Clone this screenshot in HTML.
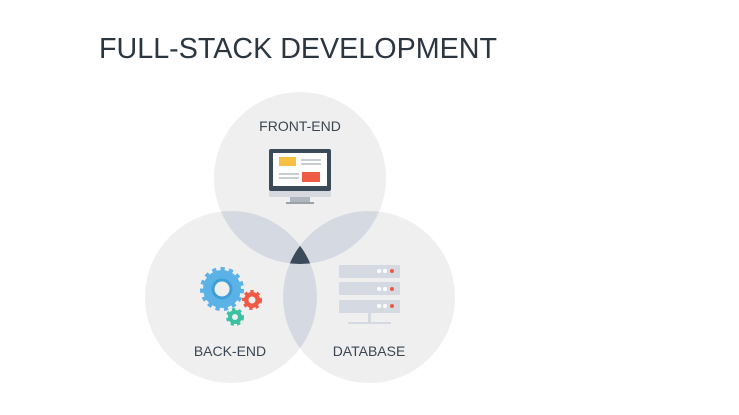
<!DOCTYPE html>
<html><head><style>
html,body{margin:0;padding:0;background:#fff;width:739px;height:415px;overflow:hidden}
svg{display:block}
</style></head><body>
<svg width="739" height="415" viewBox="0 0 739 415" xmlns="http://www.w3.org/2000/svg">
<defs>
<clipPath id="cT"><circle cx="300" cy="178" r="86"/></clipPath>
<clipPath id="cL"><circle cx="231" cy="297" r="86"/></clipPath>
<clipPath id="cR"><circle cx="369" cy="297" r="86"/></clipPath>
</defs>
<text x="99" y="58" font-family="Liberation Sans, sans-serif" font-size="28.5" fill="#2b3641" textLength="398" lengthAdjust="spacingAndGlyphs">FULL-STACK DEVELOPMENT</text>
<circle cx="300" cy="178" r="86" fill="#efeff0"/>
<circle cx="231" cy="297" r="86" fill="#efeff0"/>
<circle cx="369" cy="297" r="86" fill="#efeff0"/>
<g clip-path="url(#cT)"><circle cx="231" cy="297" r="86" fill="#d5d9e1"/><circle cx="369" cy="297" r="86" fill="#d5d9e1"/></g>
<g clip-path="url(#cL)"><circle cx="369" cy="297" r="86" fill="#d5d9e1"/></g>
<g clip-path="url(#cT)"><g clip-path="url(#cL)"><circle cx="369" cy="297" r="86" fill="#3b4a58"/></g></g>
<g font-family="Liberation Sans, sans-serif" font-size="14" fill="#3b4652" text-anchor="middle">
<text x="300" y="131">FRONT-END</text>
<text x="230" y="356">BACK-END</text>
<text x="369" y="356">DATABASE</text>
</g>
<rect x="269" y="149" width="62" height="42" rx="2" fill="#3b4a58"/>
<rect x="273" y="153" width="54" height="33" fill="#fff"/>
<rect x="269" y="191" width="62" height="6" fill="#d6dae0"/>
<rect x="290" y="197" width="20" height="5" fill="#b0b6bf"/>
<rect x="286" y="202" width="28" height="2" fill="#9aa1ab"/>
<rect x="279" y="157" width="17" height="9" fill="#f6c142"/>
<rect x="301" y="159" width="20" height="2" fill="#c8ccd3"/>
<rect x="301" y="163" width="20" height="2" fill="#c8ccd3"/>
<rect x="279" y="173" width="20" height="2" fill="#c8ccd3"/>
<rect x="279" y="177" width="20" height="2" fill="#c8ccd3"/>
<rect x="302" y="172" width="18" height="10" fill="#ef5a45"/>
<circle cx="222" cy="289" r="19" fill="#5ab2e6" stroke="#5ab2e6" stroke-width="6" stroke-dasharray="4 4"/>
<circle cx="222" cy="289" r="9" fill="#efeff0" stroke="#3fa0d8" stroke-width="3"/>
<circle cx="252" cy="300" r="8" fill="#ef5a45" stroke="#ef5a45" stroke-width="4" stroke-dasharray="3 3"/>
<circle cx="252" cy="300" r="3.5" fill="#efeff0"/>
<circle cx="235" cy="317" r="7" fill="#3cc1a0" stroke="#3cc1a0" stroke-width="4" stroke-dasharray="3 3"/>
<circle cx="235" cy="317" r="3" fill="#efeff0"/>
<g fill="#d5d9e1">
<rect x="339" y="265" width="61" height="13" rx="1"/>
<rect x="339" y="282" width="61" height="13" rx="1"/>
<rect x="339" y="300" width="61" height="13" rx="1"/>
<rect x="368" y="313" width="3" height="9"/>
<rect x="348" y="322" width="43" height="2"/>
</g>
<g fill="#fff"><circle cx="379" cy="271" r="2"/><circle cx="385" cy="271" r="2"/><circle cx="379" cy="289" r="2"/><circle cx="385" cy="289" r="2"/><circle cx="379" cy="306" r="2"/><circle cx="385" cy="306" r="2"/></g>
<g fill="#ef5a45"><circle cx="392" cy="271" r="2"/><circle cx="392" cy="289" r="2"/><circle cx="392" cy="306" r="2"/></g>
</svg>
</body></html>
